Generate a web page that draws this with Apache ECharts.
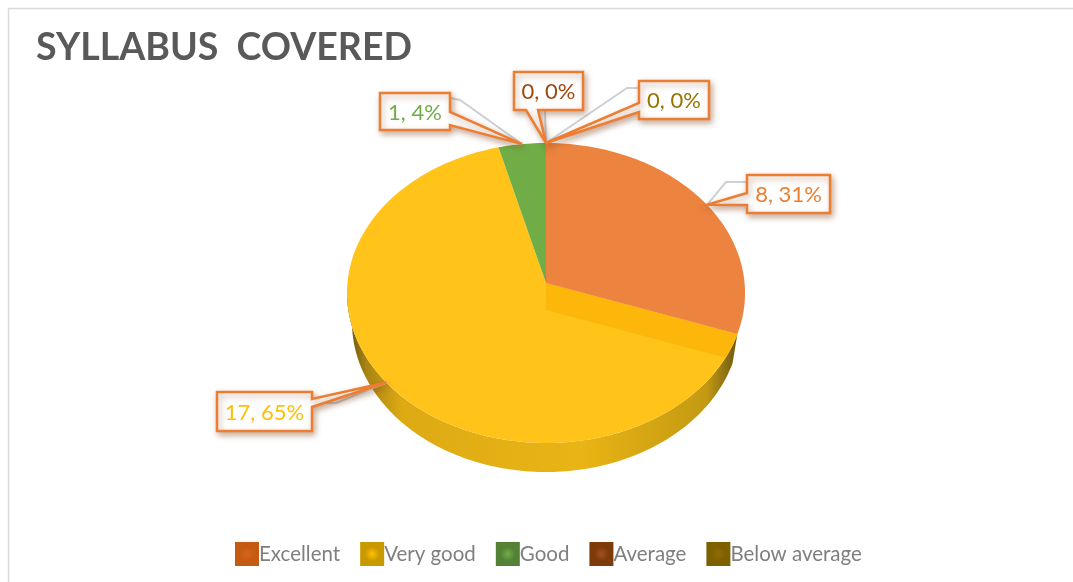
<!DOCTYPE html>
<html><head><meta charset="utf-8">
<style>html,body{margin:0;padding:0;background:#fff}#c{width:1073px;height:582px}</style>
<script src="https://cdn.jsdelivr.net/npm/echarts@6/dist/echarts.min.js"></script>
</head><body><div id="c"></div>
<script>
const categories = ['Excellent', 'Very good', 'Good', 'Average', 'Below average'];
const values = [8, 17, 1, 0, 0];
const faceColors = ['#EC843F', '#FFC31A', '#70AD47', '#9E480E', '#997300'];
const legendEdge = ['#C55A11', '#C99A00', '#538135', '#7F3A0C', '#7F6000'];
const legendCore = ['#D9641A', '#FFC000', '#70AD47', '#A5501F', '#8F6E00'];
const labelColors = ['#ED7D31', '#FFC000', '#70AD47', '#9E480E', '#997300'];

// Callout layout: [box x, y, w, h], tail side, tail base along that side, leader elbow
const callouts = [
  {box:[747,175,83,38], side:'left',  base:[193,205], elbow:[[747,182],[726,182]]},
  {box:[217,392,95,39], side:'right', base:[399,407], elbow:[[312,403],[336,403]]},
  {box:[380,93,70,37],  side:'right', base:[112,125], elbow:[[450,98],[460,100]]},
  {box:[514,72,69,38],  side:'bottom',base:[526,538], elbow:[[545,110]]},
  {box:[639,81,70,38],  side:'left',  base:[103,112], elbow:[[639,88],[627,88]]}
];
const rim = {cx:546, cy:293, rx:199, ry:150};       // outline of the tilted top face
const foot = {cx:546, cy:322, rx:194, ry:150};      // lower edge of the side wall
const apex = [546, 283], flatten = 140/199, wallDrop = 27;

const total = values.reduce((a,b)=>a+b,0);
// Where the ray from origin at slice angle t meets the rim
function rayRim(t, o){
  const dx = Math.sin(t)*rim.rx, dy = -Math.cos(t)*rim.rx*flatten;
  const ox = (o[0]-rim.cx)/rim.rx, oy = (o[1]-rim.cy)/rim.ry, ux = dx/rim.rx, uy = dy/rim.ry;
  const A = ux*ux+uy*uy, B = 2*(ox*ux+oy*uy), C = ox*ox+oy*oy-1;
  const k = (-B+Math.sqrt(B*B-4*A*C))/(2*A);
  return [o[0]+dx*k, o[1]+dy*k];
}
const param = p => { let t = Math.atan2((p[0]-rim.cx)/rim.rx, -(p[1]-rim.cy)/rim.ry); return t<0?t+2*Math.PI:t; };
const onEll = (e,t)=>[e.cx+e.rx*Math.sin(t), e.cy-e.ry*Math.cos(t)];
const ellArc = (e,a,b)=>{const o=[];const n=Math.max(2,Math.ceil(Math.abs(b-a)/0.02));for(let i=0;i<=n;i++)o.push(onEll(e,a+(b-a)*i/n));return o;};
const rayArc = (a,b)=>{const o=[];const n=Math.max(2,Math.ceil(Math.abs(b-a)/0.02));for(let i=0;i<=n;i++)o.push(rayRim(a+(b-a)*i/n,apex));return o;};

function renderSlice(idx){
  return function(params, api){
    const v = api.value(0);
    const before = values.slice(0,idx).reduce((a,b)=>a+b,0);
    const a = before/total*2*Math.PI, b = (before+v)/total*2*Math.PI, mid=(a+b)/2;
    const kids = [];
    if (v>0) {
      if (idx===1) {
        const pa = param(rayRim(a,apex)), wb = 1.5*Math.PI;
        const wallPts = ellArc(rim,pa,wb).concat(ellArc(foot,wb,pa));
        kids.push({type:'polygon',z2:1,shape:{points:wallPts},style:{fill:new echarts.graphic.LinearGradient(0,0,1,0,[
          {offset:0,color:'#66520F'},{offset:0.05,color:'#A88412'},{offset:0.14,color:'#DDAA14'},{offset:0.6,color:'#E9B414'},{offset:0.92,color:'#C49A12'},{offset:1,color:'#6E5810'}])}});
      }
      kids.push({type:'polygon',z2:idx===1?2:4,shape:{points:[apex].concat(rayArc(a,b))},style:{fill:faceColors[idx]}});
      if (idx===1) {
        // inner cut wall showing under the neighbouring slice
        const low = [apex[0],apex[1]+wallDrop], edge=[];
        for (let i=0;i<=8;i++) edge.push(rayRim(a,[apex[0],apex[1]+wallDrop*i/8]));
        kids.push({type:'polygon',z2:3,shape:{points:[apex].concat(edge,[low])},style:{fill:'#FDB70A'}});
      }
    }
    const tip = rayRim(v>0?mid:a,apex);
    const c = callouts[idx];
    const [x,y,w,h] = c.box, r=x+w, btm=y+h;
    const s=c.base;
    let path;
    if (c.side==='left')  path=[[x,y],[r,y],[r,btm],[x,btm],[x,s[1]],tip,[x,s[0]]];
    if (c.side==='right') path=[[x,y],[r,y],[r,s[0]],tip,[r,s[1]],[r,btm],[x,btm]];
    if (c.side==='bottom')path=[[x,y],[r,y],[r,btm],[s[1],btm],tip,[s[0],btm],[x,btm]];
    kids.push({type:'polyline',z2:5,shape:{points:c.elbow.concat([tip])},style:{stroke:'#CDD1D6',lineWidth:2,fill:null}});
    kids.push({type:'polygon',z2:10+idx,shape:{points:path},style:{fill:'#fff',stroke:'#ED7D31',lineWidth:2.5,lineJoin:'miter',shadowBlur:6,shadowOffsetX:2,shadowOffsetY:3,shadowColor:'rgba(120,60,20,0.4)'}});
    kids.push({type:'text',z2:20+idx,style:{x:x+w/2,y:y+h/2+1,text:v+', '+Math.round(v/total*100)+'%',align:'center',verticalAlign:'middle',fill:labelColors[idx],font:'22px Lato'}});
    return {type:'group',children:kids};
  };
}

const chart = echarts.init(document.getElementById('c'),null,{renderer:'canvas'});
chart.setOption({
  animation:false,
  backgroundColor:'#fff',
  title:{text:'SYLLABUS  COVERED',left:31,top:24,textStyle:{fontFamily:'Lato',fontWeight:'bold',fontSize:37.5,color:'#595959'}},
  legend:{left:230,top:537,itemWidth:24,itemHeight:24,itemGap:20,icon:'rect',
    textStyle:{fontFamily:'Lato',fontSize:20.5,color:'#7F7F7F',padding:[0,0,0,-5]},
    data:categories.map((n,i)=>({name:n,itemStyle:{color:new echarts.graphic.RadialGradient(0.5,0.5,0.6,[{offset:0,color:legendCore[i]},{offset:0.5,color:legendEdge[i]},{offset:1,color:legendEdge[i]}])}}))},
  graphic:[
    {type:'line',shape:{x1:8,y1:8.5,x2:1073,y2:8.5},style:{stroke:'#D9D9D9',lineWidth:1.5}},
    {type:'line',shape:{x1:8.5,y1:8,x2:8.5,y2:582},style:{stroke:'#D9D9D9',lineWidth:1.5}}
  ],
  series:categories.map((n,i)=>({name:n,type:'custom',coordinateSystem:'none',renderItem:renderSlice(i),data:[[values[i]]],itemStyle:{color:faceColors[i]}}))
});
</script></body></html>
